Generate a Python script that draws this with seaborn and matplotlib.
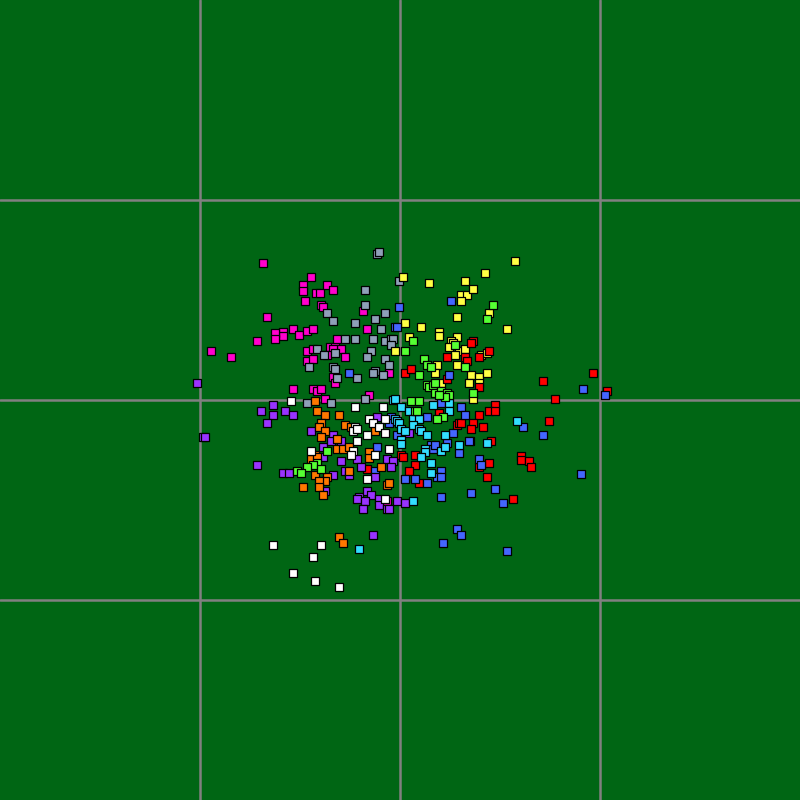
import seaborn as sns
import matplotlib.pyplot as plt
import pandas as pd

# points per group (x, y)
magenta = [(-137, 137), (-89, 123), (-97, 115), (-97, 109), (-84, 107), (-80, 107), (-73, 115),
           (-95, 99), (-79, 95), (-77, 93), (-133, 83), (-107, 71), (-117, 68), (-117, 64),
           (-125, 67), (-125, 61), (-101, 65), (-93, 69), (-87, 71), (-143, 59), (-189, 49),
           (-169, 43), (-93, 49), (-87, 51), (-70, 53), (-65, 53), (-59, 51), (-67, 51),
           (-73, 45), (-93, 39), (-87, 41), (-67, 110), (-37, 89), (-63, 61), (-55, 43),
           (-33, 71), (-11, 27), (-67, 23), (-65, 17), (-31, 5), (-107, 11), (-87, 11),
           (-83, 9), (-79, 11), (-75, 1), (-13, -101)]
slate = [(-23, 146), (-21, 148), (-1, 119), (-35, 110), (-35, 95), (-73, 87), (-15, 87),
         (-67, 79), (-45, 77), (-25, 81), (-19, 71), (-15, 59), (-9, 61), (-7, 61), (-9, 55),
         (-27, 61), (-55, 61), (-45, 61), (-83, 51), (-76, 45), (-29, 49), (-33, 43),
         (-15, 41), (-11, 35), (-91, 33), (-67, 33), (-65, 31), (-25, 29), (-27, 27),
         (-17, 25), (-63, 22), (-43, 22), (-65, 47), (-93, -3), (-69, -3), (-35, 1)]
yellow = [(3, 123), (29, 117), (65, 119), (85, 127), (115, 139), (61, 105), (67, 105), (61, 99),
          (73, 111), (89, 87), (57, 83), (5, 77), (21, 73), (39, 68), (39, 64), (107, 71),
          (9, 63), (57, 63), (51, 59), (53, 57), (49, 53), (59, 49), (65, 51), (55, 45),
          (81, 45), (87, 47), (-5, 49), (37, 35), (35, 27), (57, 35), (71, 25), (79, 23),
          (87, 27), (41, 17), (69, 17), (79, 17), (73, 1)]
red = [(73, 59), (71, 57), (89, 49), (47, 43), (65, 43), (67, 39), (79, 43), (5, 27), (11, 31),
       (47, 21), (79, 13), (143, 19), (193, 27), (207, 9), (155, 1), (95, -5), (89, -11),
       (95, -11), (79, -15), (149, -21), (73, -23), (71, -29), (83, -27), (91, -41), (89, -63),
       (79, -67), (121, -56), (121, -60), (129, -61), (131, -67), (87, -77), (113, -99),
       (39, -13), (57, -25), (59, -23), (61, -23), (1, -55), (3, -57), (15, -55), (15, -65),
       (9, -71), (19, -83), (-33, -69)]
blue = [(51, 99), (-1, 93), (-5, 73), (-3, 73), (-51, 27), (49, 25), (183, 11), (205, 5),
        (123, -27), (143, -35), (70, -41), (79, -59), (81, -65), (181, -74), (71, -93),
        (95, -89), (103, -103), (107, -151), (41, -3), (61, -7), (65, -15), (27, -17),
        (-9, -17), (53, -33), (-3, -35), (47, -43), (31, -45), (33, -49), (35, -45), (59, -53),
        (69, -41), (41, -71), (37, -77), (41, -77), (5, -79), (15, -79), (27, -83), (-11, -23),
        (-23, -47), (-25, -71), (41, -97), (57, -129), (61, -135), (43, -143)]
purple = [(-203, 17), (-127, -5), (-139, -11), (-127, -15), (-115, -11), (-107, -15),
          (-133, -23), (-89, -31), (-197, -37), (-195, -37), (-143, -65), (-117, -73),
          (-111, -73), (-77, -47), (-77, -57), (-75, -91), (-23, -17), (-67, -35), (-69, -41),
          (-59, -41), (-59, -61), (-43, -59), (-39, -67), (-55, -71), (-51, -75), (-67, -75),
          (-25, -77), (-13, -59), (-7, -61), (-9, -67), (9, -33), (-41, -97), (-43, -99),
          (-33, -91), (-29, -95), (-35, -101), (-37, -109), (-21, -99), (-21, -105),
          (-13, -109), (-11, -109), (-3, -101), (5, -103), (-27, -135)]
orange = [(-85, -1), (-83, -11), (-75, -15), (-61, -15), (-79, -23), (-81, -27), (-55, -25),
          (-49, -27), (-75, -31), (-25, -31), (-79, -37), (-63, -39), (-63, -49), (-57, -49),
          (-51, -47), (-85, -55), (-89, -59), (-83, -57), (-31, -52), (-31, -58), (-19, -67),
          (-51, -71), (-85, -75), (-73, -77), (-75, -81), (-81, -81), (-81, -87), (-77, -95),
          (-97, -87), (-13, -85), (-11, -83), (-61, -137), (-57, -143)]
white = [(-109, -1), (-45, -7), (-17, -7), (-31, -19), (-27, -23), (-15, -19), (-21, -27),
         (-15, -33), (-45, -27), (-47, -31), (-43, -29), (-33, -35), (-43, -41), (-11, -49),
         (-25, -55), (-47, -51), (-49, -55), (-89, -51), (-33, -79), (-15, -99), (-127, -145),
         (-79, -145), (-87, -157), (-107, -173), (-85, -181), (-61, -187)]
cyan = [(-7, 0), (-5, 1), (1, -7), (33, -5), (49, -3), (9, -11), (49, -11), (13, -19), (19, -19),
        (13, -25), (-5, -19), (-3, -21), (-1, -23), (1, -29), (5, -31), (19, -29), (21, -31),
        (27, -35), (45, -35), (1, -40), (1, -44), (59, -45), (41, -51), (45, -47), (25, -49),
        (25, -52), (21, -57), (31, -63), (31, -73), (117, -21), (87, -43), (13, -101),
        (-41, -149)]
lime = [(13, 59), (55, 55), (93, 95), (87, 81), (5, 49), (24, 41), (27, 35), (31, 33), (19, 25),
        (65, 33), (27, 15), (29, 13), (33, 15), (35, 17), (35, 7), (41, 9), (43, 5), (47, 7),
        (49, 5), (45, 3), (39, 5), (73, 7), (11, -1), (19, -1), (15, -11), (17, -11), (43, -17),
        (37, -19), (-73, -51), (-83, -63), (-87, -65), (-93, -67), (-79, -69), (-103, -71),
        (-99, -73)]

groups = {"magenta": magenta, "slate": slate, "yellow": yellow, "red": red, "blue": blue,
          "purple": purple, "orange": orange, "white": white, "cyan": cyan, "lime": lime}
colors = {"magenta": "#ff00cc", "slate": "#8fa0b8", "yellow": "#ffff44", "red": "#ff0000",
          "blue": "#4466ff", "purple": "#9933ff", "orange": "#ff7700", "white": "#ffffff",
          "cyan": "#33ddff", "lime": "#55ff33"}

rows = []
for name, pts in groups.items():
    for x, y in pts:
        rows.append({"x": x, "y": y, "group": name})
df = pd.DataFrame(rows)

sns.set_style("whitegrid", {"axes.facecolor": "#006614", "grid.color": "#808080"})

fig = plt.figure(figsize=(8, 8), dpi=100)
ax = fig.add_axes([0, 0, 1, 1])
sns.scatterplot(data=df, x="x", y="y", hue="group", palette=colors, marker="s",
                s=30, edgecolor="black", linewidth=0.9, legend=False, ax=ax, zorder=3)

ax.set_xlim(-400, 400)
ax.set_ylim(-400, 400)
ax.set_xticks([-200, 0, 200])
ax.set_yticks([-200, 0, 200])
ax.grid(True, linewidth=1.8)
ax.tick_params(length=0, labelbottom=False, labelleft=False)
ax.set_xlabel("")
ax.set_ylabel("")
for s in ax.spines.values():
    s.set_visible(False)

fig.savefig("out.png", dpi=100)
